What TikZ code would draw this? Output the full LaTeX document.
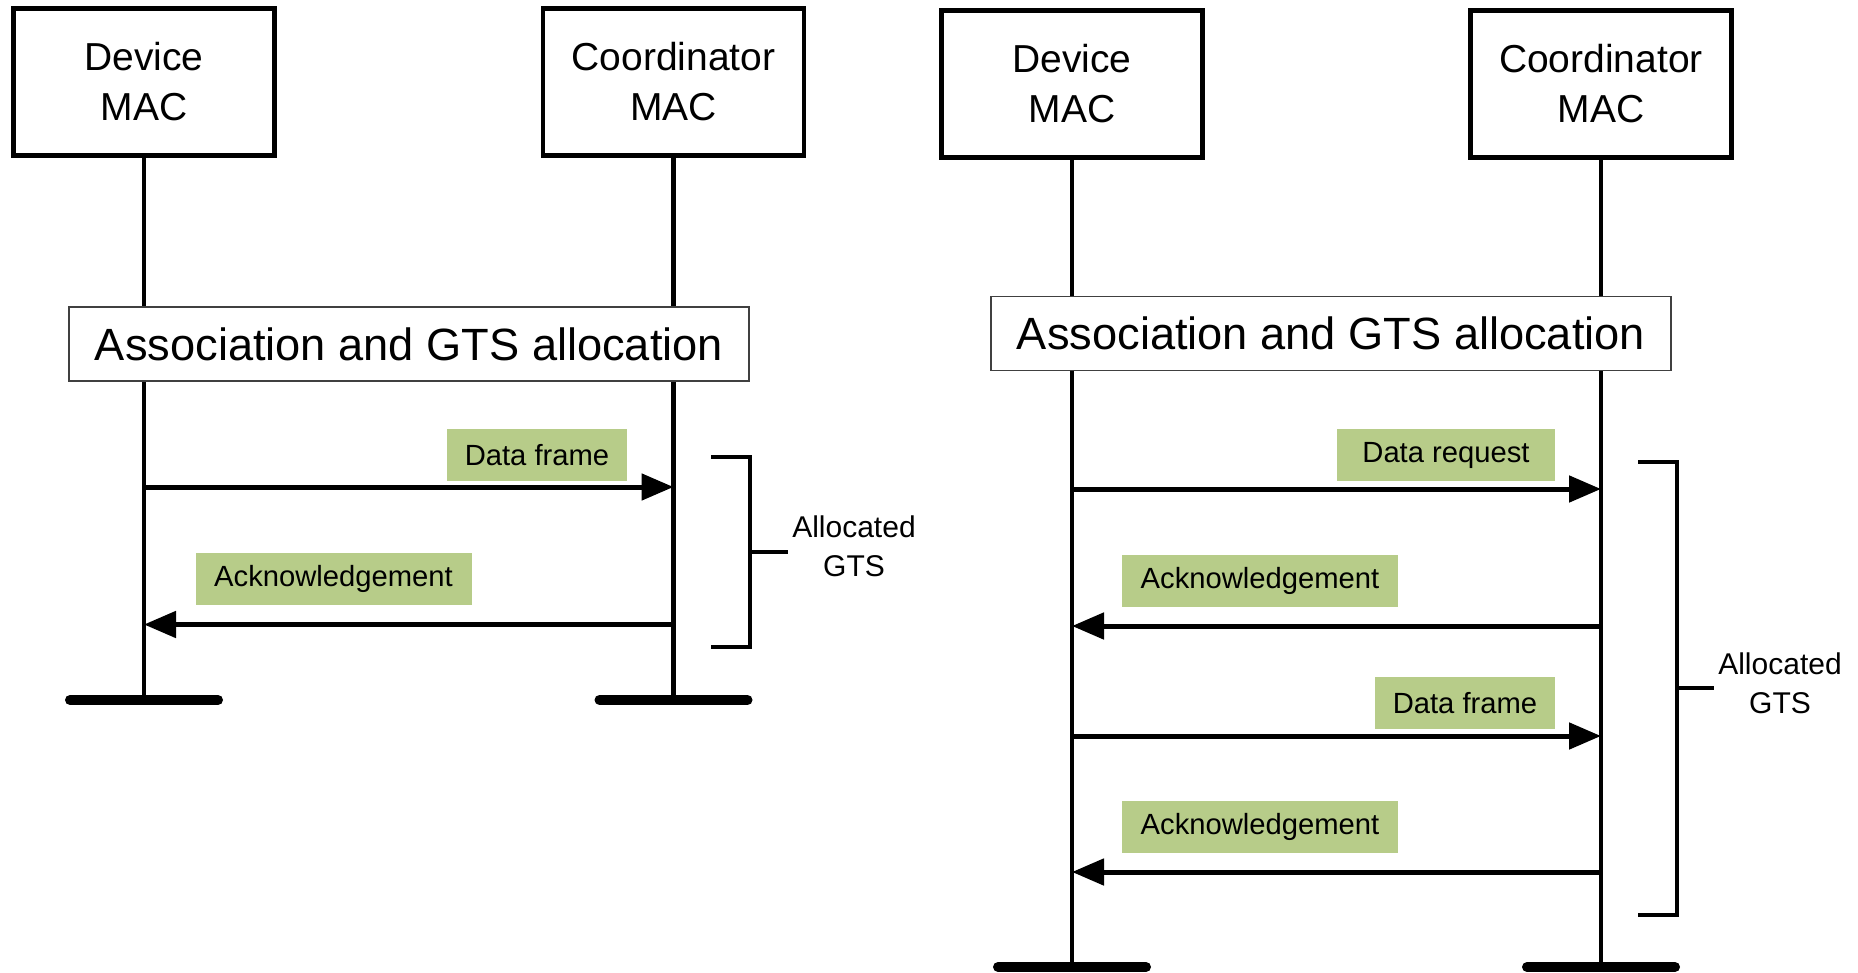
\documentclass[tikz,border=0pt]{standalone}
\usepackage{fontspec}
\setmainfont{Liberation Sans}
\usepackage{tikz}
\usetikzlibrary{arrows.meta}
\definecolor{msggreen}{RGB}{183,204,137}

\begin{document}
\begin{tikzpicture}[x=0.5pt,y=-0.5pt]
	\tikzstyle{mac}=[draw=black,line width=2.4pt,minimum width=130.5pt,minimum height=73.5pt,inner sep=0pt,align=center,font=\fontsize{19.5}{25}\selectfont]
	\tikzstyle{assoc}=[draw=black!75,line width=0.8pt,fill=white,minimum width=340pt,minimum height=37pt,inner sep=0pt,font=\fontsize{22.6}{26}\selectfont]
	\tikzstyle{lbl}=[fill=msggreen,minimum height=26pt,inner sep=0pt,font=\fontsize{14.6}{17}\selectfont]
	\tikzstyle{gts}=[inner sep=2pt,align=center,font=\fontsize{15}{19.5}\selectfont]
	\tikzstyle{life}=[line width=2.1pt]
	\tikzstyle{ground}=[line width=5pt,line cap=round]
	\tikzstyle{msg}=[line width=2.5pt,-{Triangle[length=16pt,width=13pt]}]
	\tikzstyle{brace}=[line width=2.2pt]
	\useasboundingbox (0,0) rectangle (1858,973);
	% left: one data frame in the GTS
	\node[mac](ldev) at (144,82) {Device\\MAC};
	\node[mac](lcrd) at (673.5,82) {Coordinator\\MAC};
	\coordinate (ldevend) at (144,700);
	\coordinate (lcrdend) at (673.5,700);
	\draw[life](ldev.south) -- (ldevend);
	\draw[life](lcrd.south) -- (lcrdend);
	\draw[ground](ldevend) ++(-74,0) -- ++(148,0);
	\draw[ground](lcrdend) ++(-74,0) -- ++(148,0);
	\node[assoc](lassoc) at (409,344) {Association and GTS allocation};
	\node[lbl,minimum width=90pt](ldata) at (537,455) {Data frame};
	\node[lbl,minimum width=138pt](lack) at (333.5,579) {Acknowledgement};
	\coordinate (ld1) at (144,487);
	\coordinate (lc1) at (673.5,487);
	\coordinate (ld2) at (144,624.5);
	\coordinate (lc2) at (673.5,624.5);
	\draw[msg](ld1) -- (lc1);
	\draw[msg](lc2) -- (ld2);
	\node[gts](lgts) at (854,546.5) {Allocated\\GTS};
	\coordinate (lbt) at (711,457);
	\coordinate (lbb) at (711,647);
	\coordinate (lbm) at (750,552);
	\draw[brace](lbt) -| (lbm) |- (lbb);
	\draw[brace](lbm) -- (lgts.west |- lbm);
	% right: data request, then data frame
	\node[mac](rdev) at (1072,84) {Device\\MAC};
	\node[mac](rcrd) at (1601,84) {Coordinator\\MAC};
	\coordinate (rdevend) at (1072,967);
	\coordinate (rcrdend) at (1601,967);
	\draw[life](rdev.south) -- (rdevend);
	\draw[life](rcrd.south) -- (rcrdend);
	\draw[ground](rdevend) ++(-74,0) -- ++(148,0);
	\draw[ground](rcrdend) ++(-74,0) -- ++(148,0);
	\node[assoc](rassoc) at (1331,333.5) {Association and GTS allocation};
	\node[lbl,minimum width=109pt](rreq) at (1446,455) {Data request};
	\node[lbl,minimum width=138pt](rack1) at (1260,581) {Acknowledgement};
	\node[lbl,minimum width=90pt](rdata) at (1465,703) {Data frame};
	\node[lbl,minimum width=138pt](rack2) at (1260,827) {Acknowledgement};
	\coordinate (rd1) at (1072,489);
	\coordinate (rc1) at (1601,489);
	\coordinate (rd2) at (1072,626);
	\coordinate (rc2) at (1601,626);
	\coordinate (rd3) at (1072,736);
	\coordinate (rc3) at (1601,736);
	\coordinate (rd4) at (1072,872);
	\coordinate (rc4) at (1601,872);
	\draw[msg](rd1) -- (rc1);
	\draw[msg](rc2) -- (rd2);
	\draw[msg](rd3) -- (rc3);
	\draw[msg](rc4) -- (rd4);
	\node[gts](rgts) at (1780,683) {Allocated\\GTS};
	\coordinate (rbt) at (1638,462);
	\coordinate (rbb) at (1638,915);
	\coordinate (rbm) at (1677,688);
	\draw[brace](rbt) -| (rbm) |- (rbb);
	\draw[brace](rbm) -- (rgts.west |- rbm);
\end{tikzpicture}
\end{document}
